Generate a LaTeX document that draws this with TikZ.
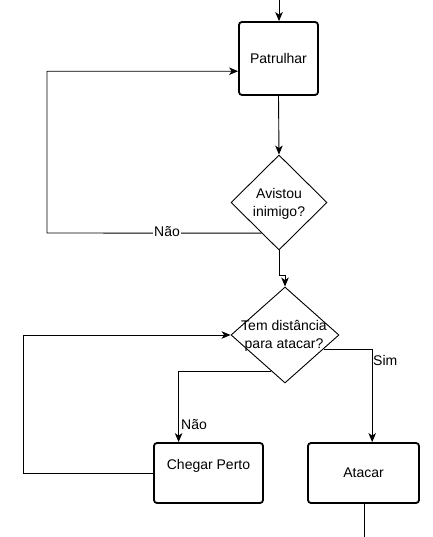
\documentclass[tikz,border=0pt]{standalone}
\usepackage{fontspec}
\setmainfont{Liberation Sans}
\usetikzlibrary{shapes.geometric,arrows.meta,calc}
\begin{document}
\begin{tikzpicture}[x=1pt,y=-1pt,
  every node/.style={font=\fontsize{14}{17.5}\selectfont},
  procbox/.style={draw, line width=1.8pt, rounded corners=3pt, inner sep=0pt},
  decision/.style={draw, diamond, line width=0.9pt, inner sep=0pt},
  conn/.style={line width=0.9pt, -{Stealth[length=9pt,width=7.5pt,inset=2.5pt]}},
  plainconn/.style={line width=0.9pt},
  lbl/.style={inner sep=1pt, fill=white}
]
\useasboundingbox (0,0) rectangle (432,537);
% nodes
\node[procbox, minimum width=79pt, minimum height=73pt] (patr) at (278.5,58.5) {Patrulhar};
\node[decision, minimum width=96pt, minimum height=95pt] (d1) at (279,202.5) {};
\node[align=center] (t1) at (279,204) {Avistou\\inimigo?};
\node[decision, minimum width=108pt, minimum height=96pt] (d2) at (285,335) {};
\node[align=center] (t2) at (284,336) {Tem distância\\para atacar?};
\node[procbox, minimum width=109pt, minimum height=60pt] (cp) at (208.5,473) {};
\node (tcp) at (208.5,466) {Chegar Perto};
\node[procbox, minimum width=111pt, minimum height=60pt] (at) at (363.5,473) {Atacar};
% coordinates
\coordinate (top) at (279,0);
\coordinate (bot) at (364,537);
\coordinate (l1) at (47,233);
\coordinate (l2) at (23,335);
% connectors
\draw[conn] (top) -- (top |- patr.north);
\draw[conn] (patr.south) -- (d1.north);
\draw[conn] ($(d1.west)!0.64!(d1.south)$) -- (l1) |- ($(patr.north west)!0.67!(patr.south west)$);
\node[lbl] (nao1) at (167,232) {Não};
\draw[conn] (d1.south) -- ++(0,25) -| (d2.north);
\draw[conn] (cp.west) -| (l2) -- (d2.west);
\draw[conn] ($(d2.west)!0.75!(d2.south)$) -| ($(cp.north west)!0.23!(cp.north east)$);
\node[anchor=west, inner sep=1pt] (nao2) at (180,425) {Não};
\draw[conn] ($(d2.east)!0.29!(d2.south)$) -| ($(at.north west)!0.577!(at.north east)$);
\node[anchor=west, inner sep=1pt] (sim) at (372,360) {Sim};
\draw[plainconn] (at.south -| bot) -- (bot);
\end{tikzpicture}
\end{document}
